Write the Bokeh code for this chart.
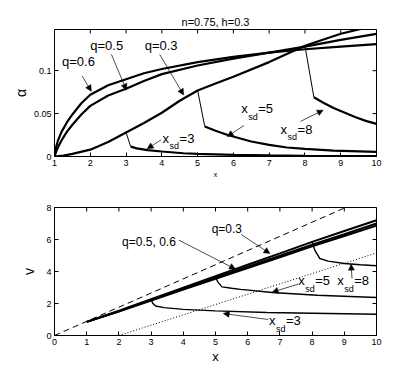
import math
from bokeh.plotting import figure
from bokeh.layouts import column
from bokeh.models import Arrow, NormalHead, FixedTicker, Range1d, Title, LinearAxis
from bokeh.core.properties import value
from bokeh.embed import file_html
from bokeh.resources import INLINE

# ---------------- data: top panel (alpha vs x) ----------------
title_text = "n=0.75, h=0.3"
top_xrange = (1, 10)
top_yrange = (0, 0.148)
top_xticks = [1, 2, 3, 4, 5, 6, 7, 8, 9, 10]
top_yticks = [0, 0.05, 0.1]
top_ytick_labels = {0: "0", 0.05: "0.05", 0.1: "0.1"}

x_q06 = [1, 1.05, 1.1, 1.2, 1.35, 1.5, 1.75, 2, 2.5, 3, 3.5, 4, 5, 6, 7, 8, 9, 10]
a_q06 = [0, 0.012, 0.019, 0.029, 0.040, 0.049, 0.062, 0.072, 0.083, 0.090, 0.097, 0.102, 0.110, 0.116, 0.121, 0.125, 0.128, 0.131]
x_q05 = [1, 1.05, 1.1, 1.2, 1.35, 1.5, 1.75, 2, 2.5, 3, 3.5, 4, 5, 6, 7, 8, 9, 10]
a_q05 = [0, 0.006, 0.011, 0.019, 0.029, 0.037, 0.049, 0.059, 0.071, 0.079, 0.088, 0.096, 0.106, 0.114, 0.121, 0.128, 0.136, 0.143]
x_q03 = [1, 1.25, 1.5, 2, 2.5, 3, 3.5, 4, 4.5, 5, 5.5, 6, 7, 8, 9, 10]
a_q03 = [0, 0.001, 0.003, 0.008, 0.017, 0.028, 0.039, 0.051, 0.065, 0.077, 0.085, 0.093, 0.110, 0.129, 0.143, 0.153]

# switch-down branches (thin drop, then thick decay)
drop3_x = [3.0, 3.13]
drop3_a = [0.028, 0.0115]
br3_x = [3.13, 3.3, 3.6, 4, 4.6, 5, 6, 7, 8, 9, 10]
br3_a = [0.0115, 0.0095, 0.0075, 0.0058, 0.0038, 0.003, 0.0018, 0.0012, 0.0008, 0.0006, 0.0004]
drop5_x = [5.0, 5.2]
drop5_a = [0.077, 0.035]
br5_x = [5.2, 5.5, 5.84, 6.5, 7, 7.5, 8, 8.8, 10]
br5_a = [0.035, 0.030, 0.025, 0.0175, 0.0135, 0.0105, 0.0088, 0.0068, 0.0055]
drop8_x = [8.0, 8.25]
drop8_a = [0.129, 0.069]
br8_x = [8.25, 8.5, 8.8, 9, 9.4, 9.7, 10]
br8_a = [0.069, 0.063, 0.0565, 0.053, 0.046, 0.0415, 0.038]

# ---------------- data: bottom panel (v vs x) ----------------
bot_xrange = (0, 10)
bot_yrange = (0, 8)
bot_xticks = [0, 1, 2, 3, 4, 5, 6, 7, 8, 9, 10]
bot_yticks = [0, 2, 4, 6, 8]
xv = [1, 2, 3, 4, 5, 6, 7, 8, 9, 10]
v_q03 = [0.85, 1.55, 2.27, 2.99, 3.70, 4.42, 5.13, 5.85, 6.53, 7.20]
v_q05 = [0.85, 1.52, 2.22, 2.92, 3.60, 4.30, 4.98, 5.67, 6.33, 7.00]
v_q06 = [0.85, 1.50, 2.18, 2.87, 3.54, 4.22, 4.89, 5.57, 6.22, 6.87]
dash_x = [0, 10]
dash_v = [0, 8.85]
dot_x = [2, 10]
dot_v = [0, 5.16]
bv3_x = [3.0, 3.05, 3.14, 3.4, 4.0, 5.0, 6.6, 8.0, 10]
bv3_v = [2.27, 2.02, 1.84, 1.74, 1.63, 1.54, 1.44, 1.39, 1.33]
bv5_x = [5.0, 5.07, 5.2, 5.5, 5.78, 6.76, 8.16, 10]
bv5_v = [3.70, 3.35, 3.04, 2.95, 2.88, 2.69, 2.52, 2.375]
bv8_x = [8.0, 8.08, 8.24, 8.5, 9.0, 9.5, 10]
bv8_v = [5.85, 5.35, 4.81, 4.65, 4.50, 4.42, 4.36]

FONT = "Liberation Sans"


# annotations: (x, y, parts) ; parts: (text, size, dx, dy)
def simple(t, size):
    return [(t, size, 0, 0)]


def xsd(n, big, small):
    return [("x", big, 0, 0), ("sd", small, 7, 8), ("=" + n, big, 17, 0)]


top_labels = [
    (1.21, 0.1107, simple("q=0.6", "13px")),
    (2.00, 0.1290, simple("q=0.5", "13px")),
    (3.52, 0.1290, simple("q=0.3", "13px")),
    (4.02, 0.0210, xsd("3", "13px", "9px")),
    (6.22, 0.0554, xsd("5", "13px", "9px")),
    (7.32, 0.0320, xsd("8", "13px", "9px")),
]
top_arrows = [
    (1.77, 0.094, 2.03, 0.076),
    (2.59, 0.119, 3.01, 0.0775),
    (3.94, 0.119, 4.61, 0.0717),
    (3.98, 0.0194, 3.59, 0.009),
    (6.29, 0.036, 5.83, 0.0233),
    (7.88, 0.041, 8.51, 0.054),
]
bot_labels = [
    (2.10, 5.85, simple("q=0.5, 0.6", "12px")),
    (4.88, 6.63, simple("q=0.3", "12px")),
    (7.57, 3.42, xsd("5", "13px", "9px")),
    (8.78, 3.42, xsd("8", "13px", "9px")),
    (6.66, 0.92, xsd("3", "13px", "9px")),
]
bot_arrows = [
    (3.86, 5.96, 5.62, 4.15),
    (5.80, 6.31, 6.69, 5.125),
    (7.57, 3.21, 6.76, 2.71),
    (9.24, 3.56, 9.21, 4.46),
    (6.64, 1.00, 5.24, 1.375),
]


def style_axis(ax):
    ax.major_tick_in = 4
    ax.major_tick_out = 0
    ax.minor_tick_line_color = None
    ax.axis_line_color = "black"
    ax.major_tick_line_color = "black"
    ax.major_label_text_font = FONT
    ax.major_label_text_color = "black"
    ax.major_label_text_font_size = "9px"
    ax.major_label_standoff = 3
    ax.axis_label_text_font = FONT
    ax.axis_label_text_font_style = "normal"
    ax.axis_label_text_color = "black"


def make_fig(w, h, xr, yr, xt, yt, bl, br, bt, bb):
    p = figure(width=w, height=h, x_range=Range1d(*xr), y_range=Range1d(*yr),
               output_backend="svg", toolbar_location=None,
               min_border_left=bl, min_border_right=br, min_border_top=bt, min_border_bottom=bb)
    p.title_location = None
    p.grid.visible = False
    p.outline_line_color = "black"
    p.outline_line_width = 1
    p.below[0].ticker = FixedTicker(ticks=xt)
    p.left[0].ticker = FixedTicker(ticks=yt)
    style_axis(p.below[0])
    style_axis(p.left[0])
    # inward tick marks on the top and right edges (box style)
    p.scatter(x=xt, y=[yr[1]] * len(xt), marker="dash", size=8, angle=math.pi / 2,
              line_color="black", line_width=1)
    p.scatter(x=[xr[1]] * len(yt), y=yt, marker="dash", size=8,
              line_color="black", line_width=1)
    return p


def add_labels(p, labels):
    for (x, y, parts) in labels:
        for (t, size, dx, dy) in parts:
            p.text(x=[x], y=[y], text=[t], x_offset=dx, y_offset=dy,
                   text_font=value(FONT), text_font_size=size, text_color="black",
                   text_baseline="middle", text_align="left")


def add_arrows(p, arrows):
    for (x0, y0, x1, y1) in arrows:
        p.add_layout(Arrow(end=NormalHead(size=6, fill_color="black", line_color="black", line_width=0.5),
                           x_start=x0, y_start=y0, x_end=x1, y_end=y1,
                           line_width=0.7, line_color="black"))


# ---------------- top figure ----------------
p1 = make_fig(407, 190, top_xrange, top_yrange, top_xticks, top_yticks, 54, 31, 29, 34)
p1.left[0].major_label_overrides = top_ytick_labels
p1.add_layout(Title(text=title_text, align="center", text_font=FONT, text_font_size="11px",
                    text_font_style="normal", text_color="black", standoff=4), "above")
# empty spacer (no ticks, no text) pushes the title towards the frame
spacer = LinearAxis(ticker=FixedTicker(ticks=[]), major_tick_out=8, major_tick_in=0,
                    major_tick_line_color=None, axis_line_color=None, minor_tick_line_color=None,
                    major_label_standoff=0)
p1.add_layout(spacer, "above")
p1.below[0].axis_label = "x"
p1.below[0].axis_label_text_font_size = "7px"
p1.below[0].axis_label_standoff = 2
p1.left[0].axis_label = "α"
p1.left[0].axis_label_text_font_size = "14px"
p1.left[0].axis_label_standoff = 2

LW = 2.2
p1.line(x_q06, a_q06, line_color="black", line_width=LW)
p1.line(x_q05, a_q05, line_color="black", line_width=LW)
p1.line(x_q03, a_q03, line_color="black", line_width=LW)
for dx_, da_ in [(drop3_x, drop3_a), (drop5_x, drop5_a), (drop8_x, drop8_a)]:
    p1.line(dx_, da_, line_color="black", line_width=1)
for bx_, ba_ in [(br3_x, br3_a), (br5_x, br5_a), (br8_x, br8_a)]:
    p1.line(bx_, ba_, line_color="black", line_width=LW)
add_labels(p1, top_labels)
add_arrows(p1, top_arrows)

# ---------------- bottom figure ----------------
p2 = make_fig(407, 180, bot_xrange, bot_yrange, bot_xticks, bot_yticks, 54, 31, 17, 35)
p2.below[0].axis_label = "x"
p2.below[0].axis_label_text_font_size = "13px"
p2.below[0].axis_label_standoff = 1
p2.left[0].axis_label = "v"
p2.left[0].axis_label_text_font_size = "14px"
p2.left[0].axis_label_standoff = 6

p2.line(dash_x, dash_v, line_color="black", line_width=1, line_dash="6 4")
p2.line(dot_x, dot_v, line_color="black", line_width=1, line_dash="1 2")
p2.line(xv, v_q03, line_color="black", line_width=2)
p2.line(xv, v_q05, line_color="black", line_width=2)
p2.line(xv, v_q06, line_color="black", line_width=2)
for bx_, bv_ in [(bv3_x, bv3_v), (bv5_x, bv5_v), (bv8_x, bv8_v)]:
    p2.line(bx_, bv_, line_color="black", line_width=1.4)
add_labels(p2, bot_labels)
add_arrows(p2, bot_arrows)

layout = column(p1, p2, spacing=0)
open("out.html", "w").write(file_html(layout, INLINE))
